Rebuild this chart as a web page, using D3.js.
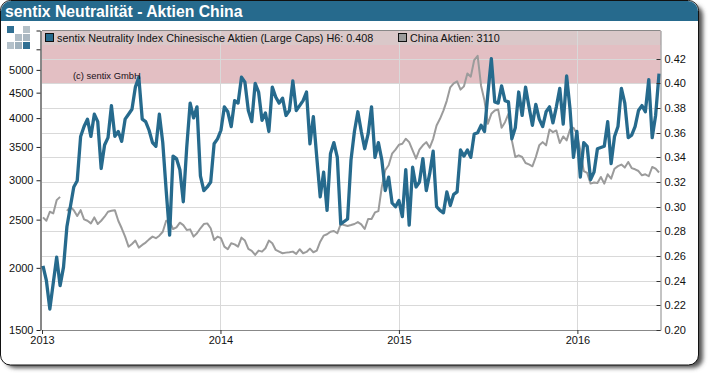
<!DOCTYPE html>
<html>
<head>
<meta charset="utf-8">
<script src="https://cdn.jsdelivr.net/npm/d3@7"></script>
<style>
  html, body { margin: 0; padding: 0; background: #fff; }
  text { font-family: "Liberation Sans", Arial, sans-serif; }
</style>
</head>
<body>
<div id="chart"></div>
<script>
const titleText = 'sentix Neutralität - Aktien China';
const legendBlue = 'sentix Neutrality Index Chinesische Aktien (Large Caps) H6: 0.408';
const legendGray = 'China Aktien: 3110';
const copyrightText = '(c) sentix GmbH';

const leftTicks = [1500, 2000, 2500, 3000, 3500, 4000, 4500, 5000, 5500, 6000];
const leftLabels = [1500, 2000, 2500, 3000, 3500, 4000, 4500, 5000];
const rightTicks = [0.20, 0.22, 0.24, 0.26, 0.28, 0.30, 0.32, 0.34, 0.36, 0.38, 0.40, 0.42];
const yearTicks = [2013, 2014, 2015, 2016];

// weekly values, right axis
const neutrality = [
  .252,.240,.217,.238,.259,.236,.251,.284,.300,.316,.321,.357,.365,.371,.357,.375,.369,.331,.350,.356,
  .382,.357,.361,.353,.371,.375,.379,.397,.405,.371,.369,.362,.352,.349,.375,.352,.313,.277,.341,.339,
  .330,.304,.348,.384,.372,.381,.325,.313,.316,.320,.351,.355,.362,.381,.377,.365,.386,.384,.405,.401,
  .378,.369,.400,.393,.370,.376,.361,.397,.389,.384,.388,.374,.378,.402,.378,.382,.386,.393,.351,.373,
  .340,.308,.328,.297,.343,.352,.340,.286,.288,.290,.338,.361,.377,.361,.347,.359,.381,.340,.352,.338,
  .313,.324,.303,.300,.305,.292,.330,.285,.332,.316,.320,.339,.313,.327,.345,.300,.297,.295,.312,.301,
  .310,.312,.346,.341,.346,.340,.359,.360,.366,.361,.392,.420,.385,.384,.398,.386,.385,.355,.364,.393,
  .374,.397,.381,.366,.383,.371,.365,.377,.381,.368,.381,.396,.367,.406,.379,.340,.361,.324,.352,.349,
  .322,.328,.347,.348,.349,.369,.335,.357,.365,.396,.384,.356,.358,.365,.378,.382,.377,.403,.356,.374,
  .408
];

// weekly values, left axis (null = hole in the line)
const chinaIndex = [
  2526,2487,2593,2573,2736,2778,null,2604,2653,2612,2542,2612,2503,2487,2457,2526,2450,2487,2534,2593,
  2604,2612,2487,2402,2311,2206,2234,2269,2196,2224,2248,2282,2311,2294,2321,2364,2487,2476,2394,2413,
  2465,2438,2383,2390,2311,2347,2402,2450,2457,2402,2276,2311,2294,2206,2180,2241,2230,2206,2300,2269,
  2183,2163,2123,2166,2156,2190,2269,2241,2173,2156,2140,2146,2150,2156,2133,2180,2140,2153,2186,2150,
  2166,2258,2321,2336,2364,2372,2347,2450,2438,2427,2438,2450,2472,2446,2394,2507,2507,2585,2601,2909,
  3142,3215,3392,3456,3536,3552,3635,3579,3445,3315,3456,3526,3579,3488,3635,3866,3987,4142,4337,4612,
  4698,4741,4564,4633,4919,4846,5233,5337,4647,4337,3896,4080,4142,4162,3824,3924,4080,3608,3341,3367,
  3341,3249,3229,3200,3341,3526,3579,3526,3795,3748,3778,3563,3674,3608,3795,3824,3719,3445,3131,3103,
  2954,2968,2961,3046,2954,3084,3023,3165,3203,3226,3181,3265,3174,3156,3131,3070,3084,3056,3190,3165,
  3110
];

const firstWeek = new Date(2013, 0, 3);
const dates = neutrality.map((d, i) => d3.timeDay.offset(firstWeek, i * 7));

const width = 710, height = 376;
const plot = { left: 42, right: 660.5, top: 30.5, bottom: 330 };
const colors = { bar: '#266a8d', gray: '#9b9b9b', pink: '#e3bfc3', legendBand: '#dac8c9', grid: '#d9d9d9' };

const x = d3.scaleTime()
  .domain([new Date(2013, 0, 1), new Date(2016, 5, 19)])
  .range([plot.left, plot.right]);
const yLeft = d3.scaleLog().domain([1500, 6000]).range([plot.bottom, plot.top]);
const yRight = d3.scaleLinear().domain([0.20, 0.4429]).range([plot.bottom, plot.top]);

const svg = d3.select('#chart').append('svg')
  .attr('width', width)
  .attr('height', height)
  .style('display', 'block');

// drop shadow of the panel
const defs = svg.append('defs');
const blur = defs.append('filter').attr('id', 'shadow')
  .attr('x', '-5%').attr('y', '-5%').attr('width', '110%').attr('height', '110%');
blur.append('feGaussianBlur').attr('stdDeviation', 2.2);

svg.append('rect')
  .attr('x', 5).attr('y', 5).attr('width', 698).attr('height', 363).attr('rx', 10)
  .attr('fill', '#555').attr('filter', 'url(#shadow)');

svg.append('rect')
  .attr('x', 0.5).attr('y', 0.5).attr('width', 698).attr('height', 364.5).attr('rx', 10)
  .attr('fill', '#fff').attr('stroke', '#111');

// title bar
svg.append('path')
  .attr('d', 'M1,21 V11 A10,10 0 0 1 11,1 H688 A10,10 0 0 1 698,11 V21 Z')
  .attr('fill', colors.bar);
svg.append('text')
  .attr('x', 5).attr('y', 17)
  .attr('fill', '#fff')
  .attr('font-size', 15.75)
  .attr('font-weight', 'bold')
  .text(titleText);

// pink band above 0.40, the legend strip sits on top of it
svg.append('rect')
  .attr('x', plot.left).attr('y', plot.top)
  .attr('width', plot.right - plot.left)
  .attr('height', yRight(0.40) - plot.top)
  .attr('fill', colors.pink);
svg.append('rect')
  .attr('x', plot.left).attr('y', plot.top)
  .attr('width', plot.right - plot.left)
  .attr('height', 14.5)
  .attr('fill', colors.legendBand);

// grid
svg.append('g').selectAll('line')
  .data(rightTicks.slice(1))
  .join('line')
  .attr('x1', plot.left).attr('x2', plot.right)
  .attr('y1', d => Math.round(yRight(d)) + 0.5)
  .attr('y2', d => Math.round(yRight(d)) + 0.5)
  .attr('stroke', colors.grid);
svg.append('g').selectAll('line')
  .data(yearTicks.slice(1))
  .join('line')
  .attr('x1', d => Math.round(x(new Date(d, 0, 1))) + 0.5)
  .attr('x2', d => Math.round(x(new Date(d, 0, 1))) + 0.5)
  .attr('y1', plot.top).attr('y2', plot.bottom)
  .attr('stroke', colors.grid);

// series
const lineGray = d3.line()
  .defined(d => d.v !== null)
  .x(d => x(d.t))
  .y(d => yLeft(d.v));
const lineBlue = d3.line()
  .x(d => x(d.t))
  .y(d => yRight(d.v));

svg.append('path')
  .datum(chinaIndex.map((v, i) => ({ t: dates[i], v })))
  .attr('d', lineGray)
  .attr('fill', 'none')
  .attr('stroke', colors.gray)
  .attr('stroke-width', 2)
  .attr('stroke-linejoin', 'round');
svg.append('path')
  .datum(neutrality.map((v, i) => ({ t: dates[i], v })))
  .attr('d', lineBlue)
  .attr('fill', 'none')
  .attr('stroke', colors.bar)
  .attr('stroke-width', 3.3)
  .attr('stroke-linejoin', 'round');

// axes
const axisLeft = d3.axisLeft(yLeft)
  .tickValues(leftTicks)
  .tickSize(4)
  .tickSizeOuter(0)
  .tickFormat(d => leftLabels.includes(d) ? d : '');
const axisRight = d3.axisRight(yRight)
  .tickValues(rightTicks)
  .tickSize(0)
  .tickSizeOuter(0)
  .tickPadding(4)
  .tickFormat(d3.format('.2f'));
const axisBottom = d3.axisBottom(x)
  .tickValues(yearTicks.map(d => new Date(d, 0, 1)))
  .tickSize(4)
  .tickSizeOuter(0)
  .tickPadding(2)
  .tickFormat(d3.timeFormat('%Y'));

const gLeft = svg.append('g').attr('transform', `translate(${plot.left - 1.5},0)`).call(axisLeft);
const gRight = svg.append('g').attr('transform', `translate(${plot.right},0)`).call(axisRight);
const gBottom = svg.append('g').attr('transform', `translate(0,${plot.bottom})`).call(axisBottom);

[gLeft, gRight, gBottom].forEach(g => {
  g.selectAll('text').attr('font-size', 11).attr('font-family', '"Liberation Sans", Arial, sans-serif').attr('fill', '#111');
});
gLeft.select('.domain').attr('stroke', '#111');
gRight.select('.domain').attr('stroke', '#888');
gBottom.select('.domain').attr('stroke', '#888');
gBottom.selectAll('line').attr('stroke', '#333');
gLeft.selectAll('line').attr('stroke', '#222');

// small inner ticks for the right axis
svg.append('g').selectAll('line')
  .data(rightTicks)
  .join('line')
  .attr('x1', plot.right - 4).attr('x2', plot.right)
  .attr('y1', d => Math.round(yRight(d)) + 0.5)
  .attr('y2', d => Math.round(yRight(d)) + 0.5)
  .attr('stroke', '#333');

// top border of the plot
svg.append('line')
  .attr('x1', plot.left).attr('x2', plot.right)
  .attr('y1', plot.top).attr('y2', plot.top)
  .attr('stroke', '#888');

// legend
svg.append('rect').attr('x', 45.5).attr('y', 33.5).attr('width', 8).attr('height', 8)
  .attr('fill', colors.bar).attr('stroke', '#111');
svg.append('text').attr('x', 57).attr('y', 42).attr('font-size', 10.8).attr('fill', '#111').text(legendBlue);
svg.append('rect').attr('x', 398.5).attr('y', 33.5).attr('width', 8).attr('height', 8)
  .attr('fill', colors.gray).attr('stroke', '#111');
svg.append('text').attr('x', 410).attr('y', 42).attr('font-size', 10.8).attr('fill', '#111').text(legendGray);

svg.append('text').attr('x', 73).attr('y', 79).attr('font-size', 9.4).attr('fill', '#201018').text(copyrightText);

// logo squares
const logoCells = [
  [0, 0, '#2f6f93'], [2, 0, '#b4c0c7'],
  [1, 1, '#b0bdc6'], [2, 1, '#a9b7c1'],
  [0, 2, '#b4c1ca'], [1, 2, '#9fb1bd'], [2, 2, '#2f6f93']
];
svg.append('g').selectAll('rect')
  .data(logoCells)
  .join('rect')
  .attr('x', d => 7 + d[0] * 8)
  .attr('y', d => 26 + d[1] * 8)
  .attr('width', 7)
  .attr('height', 7)
  .attr('fill', d => d[2]);
</script>
</body>
</html>
